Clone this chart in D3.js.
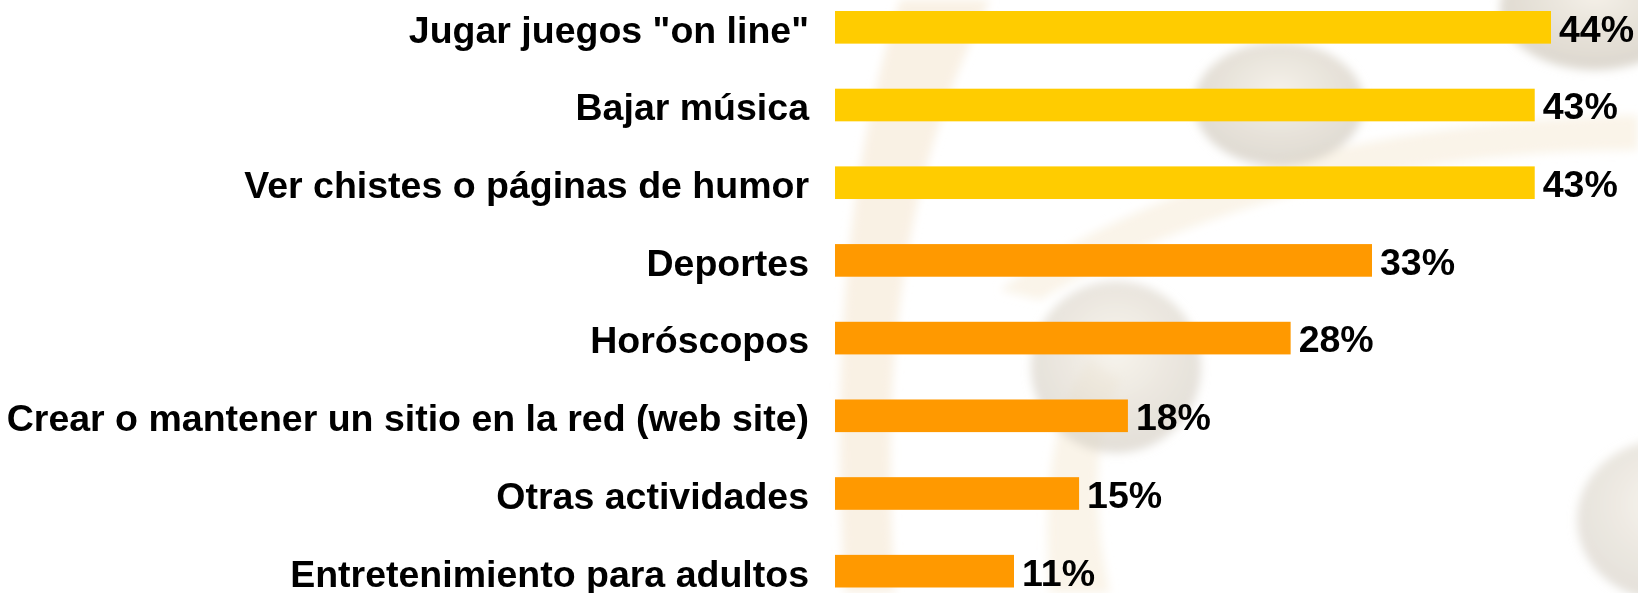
<!DOCTYPE html>
<html>
<head>
<meta charset="utf-8">
<script src="https://cdn.jsdelivr.net/npm/d3@7"></script>
<style>
  html, body { margin: 0; padding: 0; background: #fff; }
  svg { display: block; }
</style>
</head>
<body>
<svg id="chart"></svg>
<script>
// categories and shares (%), top to bottom
const categories = [
  'Jugar juegos "on line"',
  'Bajar música',
  'Ver chistes o páginas de humor',
  'Deportes',
  'Horóscopos',
  'Crear o mantener un sitio en la red (web site)',
  'Otras actividades',
  'Entretenimiento para adultos'
];
const values = [44, 43, 43, 33, 28, 18, 15, 11];
const valueLabels = ['44%', '43%', '43%', '33%', '28%', '18%', '15%', '11%'];

const W = 1638, H = 593;
const TOP_N = 3;                       // first three bars drawn in the lighter yellow
const YELLOW = '#ffcc00', ORANGE = '#ff9900';
const FONT = '"Liberation Sans", Arial, sans-serif';
const FS = 37.5;

const svg = d3.select('#chart').attr('width', W).attr('height', H);

// ---- faint decorative background (blurred spheres + swooshes) ----
const defs = svg.append('defs');
defs.append('filter').attr('id', 'blur').attr('x', '-50%').attr('y', '-50%').attr('width', '200%').attr('height', '200%')
  .append('feGaussianBlur').attr('stdDeviation', 5);
const rg = defs.append('radialGradient').attr('id', 'ball').attr('cx', '50%').attr('cy', '40%').attr('r', '60%');
rg.append('stop').attr('offset', '0%').attr('stop-color', '#f3eee4');
rg.append('stop').attr('offset', '55%').attr('stop-color', '#e2dcd1');
rg.append('stop').attr('offset', '100%').attr('stop-color', '#d6d0c6');

const bg = svg.append('g').attr('filter', 'url(#blur)');
bg.append('path').attr('d', 'M900,0 C850,160 830,340 845,593 L895,593 C880,370 900,180 990,0 Z')
  .attr('fill', '#f8efdf').attr('opacity', .85);
bg.append('path').attr('d', 'M1050,593 C1040,470 1060,400 1090,360 L1120,380 C1095,430 1090,500 1110,593 Z')
  .attr('fill', '#f8efdf').attr('opacity', .7);
bg.append('path').attr('d', 'M1000,290 C1150,180 1380,120 1638,115 L1638,150 C1400,150 1190,210 1040,300 Z')
  .attr('fill', '#f8efdf').attr('opacity', .7);
bg.append('ellipse').attr('cx', 1279).attr('cy', 104).attr('rx', 85).attr('ry', 62).attr('fill', 'url(#ball)').attr('opacity', .8);
bg.append('ellipse').attr('cx', 1116).attr('cy', 367).attr('rx', 85).attr('ry', 86).attr('fill', 'url(#ball)').attr('opacity', .7);
bg.append('ellipse').attr('cx', 1595).attr('cy', 8).attr('rx', 95).attr('ry', 62).attr('fill', 'url(#ball)').attr('opacity', .85);
bg.append('ellipse').attr('cx', 1665).attr('cy', 520).attr('rx', 88).attr('ry', 80).attr('fill', 'url(#ball)').attr('opacity', .65);

// ---- scales ----
const x = d3.scaleLinear().domain([0, d3.max(values)]).range([835, 1551]);
const y = d3.scaleBand().domain(categories).range([11, 587.5]).paddingInner(0.58).paddingOuter(0);

const rows = categories.map((c, i) => ({ cat: c, v: values[i], lab: valueLabels[i], i }));

const g = svg.append('g');

g.selectAll('rect.bar').data(rows).join('rect')
  .attr('class', 'bar')
  .attr('x', x(0))
  .attr('y', d => y(d.cat))
  .attr('width', d => x(d.v) - x(0))
  .attr('height', y.bandwidth())
  .attr('fill', d => d.i < TOP_N ? YELLOW : ORANGE);

// category labels, right aligned against the bars
g.selectAll('text.cat').data(rows).join('text')
  .attr('class', 'cat')
  .attr('x', 809)
  .attr('y', d => y(d.cat) + y.bandwidth() - 1)
  .attr('text-anchor', 'end')
  .attr('font-family', FONT).attr('font-weight', 700).attr('font-size', FS)
  .attr('fill', '#000')
  .text(d => d.cat);

// value labels at the bar ends
g.selectAll('text.val').data(rows).join('text')
  .attr('class', 'val')
  .attr('x', d => x(d.v) + 8)
  .attr('y', d => y(d.cat) + y.bandwidth() - 2)
  .attr('font-family', FONT).attr('font-weight', 700).attr('font-size', FS)
  .attr('fill', '#000')
  .text(d => d.lab);
</script>
</body>
</html>
